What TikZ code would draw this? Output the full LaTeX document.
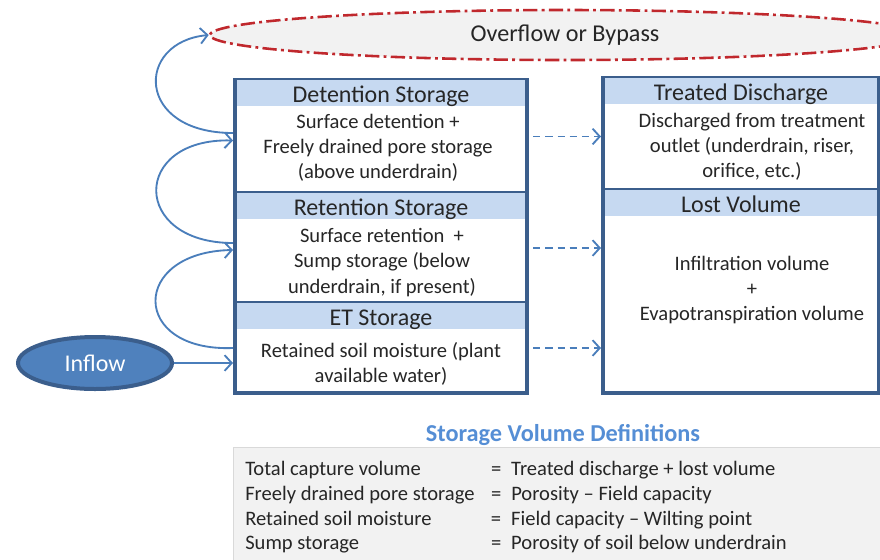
\documentclass[tikz,border=0pt]{standalone}
\usepackage{fontspec}
\setmainfont{Carlito}
\usepackage{xcolor}
\usetikzlibrary{calc}
\usetikzlibrary{positioning}
\usetikzlibrary{shapes.geometric}
\usetikzlibrary{arrows.meta}

\definecolor{boxblue}{HTML}{3B5E8C}
\definecolor{headblue}{HTML}{C6D9F1}
\definecolor{flowblue}{HTML}{4A7EBB}
\definecolor{inblue}{HTML}{4F81BD}
\definecolor{overred}{HTML}{C0282D}
\definecolor{panelgray}{HTML}{F2F2F2}
\definecolor{titleblue}{HTML}{558ED5}
\definecolor{textgray}{HTML}{262626}

\begin{document}
\begin{tikzpicture}[x=0.7pt, y=-0.7pt]

        \def\px{0.7pt}

        % Styles of the storage boxes, their bands and the flows
        \tikzset{
          storebox/.style={draw=boxblue, line width=2.8pt, fill=white,
            inner sep=0pt},
          headband/.style={fill=headblue, minimum height=26*\px,
            inner sep=0pt, text=textgray, text height=12.5pt,
            text depth=0pt, font=\fontsize{16.8}{19}\selectfont},
          bodytext/.style={align=center, text=textgray,
            font=\fontsize{14.4}{17.6}\selectfont},
          flow/.style={draw=flowblue, line width=1.3pt,
            -{Straight Barb[length=5pt, width=11pt]}},
          dashflow/.style={flow, dash pattern=on 5pt off 3.5pt}
        }

        \useasboundingbox (0,0) rectangle (880,559);
        \clip (0,0) rectangle (880,559);

        % Overflow on top and inflow on the left
        \node[ellipse, draw=overred, fill=panelgray, line width=1.8pt,
          dash pattern=on 10pt off 3pt on 2pt off 3pt,
          minimum width=710*\px, minimum height=50*\px, text=textgray,
          font=\fontsize{16.9}{19}\selectfont] (O1) at (565,35)
        {\raisebox{-1.4pt}{Overflow or Bypass}};
        \node[ellipse, draw=boxblue, fill=inblue, line width=2.8pt,
          minimum width=154*\px, minimum height=52*\px, text=white,
          font=\fontsize{16.8}{19}\selectfont] (I1) at (95,363) {Inflow};

        % Scope with the three storages and the two outlets
        \begin{scope}
            \node[storebox, minimum width=292*\px, minimum height=113*\px]
            (S1) at (381,136.5) {};
            \node[storebox, minimum width=292*\px, minimum height=110*\px]
            (S2) at (381,248) {};
            \node[storebox, minimum width=292*\px, minimum height=90*\px]
            (S3) at (381,348) {};
            \node[storebox, minimum width=276*\px, minimum height=112*\px]
            (T1) at (741,134) {};
            \node[storebox, minimum width=276*\px, minimum height=203*\px]
            (L1) at (741,291.5) {};

            \node[headband, anchor=north, minimum width=288*\px]
            (H1) at ($(S1.north)+(0,2)$) {Detention Storage};
            \node[headband, anchor=north, minimum width=288*\px]
            (H2) at ($(S2.north)+(0,2)$) {Retention Storage};
            \node[headband, anchor=north, minimum width=288*\px]
            (H3) at ($(S3.north)+(0,2)$) {ET Storage};
            \node[headband, anchor=north, minimum width=272*\px]
            (H4) at ($(T1.north)+(0,2)$) {Treated Discharge};
            \node[headband, anchor=north, minimum width=272*\px]
            (H5) at ($(L1.north)+(0,2)$) {Lost Volume};

            \node[bodytext] (B1) at (378,147.5)
            {Surface detention +\\Freely drained pore storage\\(above underdrain)};
            \node[bodytext] (B2) at (382,262.5)
            {Surface retention~~+\\Sump storage (below\\underdrain, if present)};
            \node[bodytext] (B3) at (381,364)
            {Retained soil moisture (plant\\available water)};
            \node[bodytext] (B4) at (752,146.5)
            {Discharged from treatment\\outlet (underdrain, riser,\\orifice, etc.)};
            \node[bodytext] (B5) at (752,290)
            {Infiltration volume\\+\\Evapotranspiration volume};
        \end{scope}

        % Definitions panel
        \node[font=\bfseries\fontsize{17}{19}\selectfont, text=titleblue]
        (V1) at (563,435) {Storage Volume Definitions};
        \node[draw=black!15, fill=panelgray, anchor=north west,
          inner sep=0pt, minimum width=680*\px, minimum height=130*\px]
        (P1) at (233,447) {};
        \node[anchor=north west, inner sep=0pt, text=textgray,
          font=\fontsize{14.4}{17.3}\selectfont] (D1) at (245,458)
        {\begin{tabular}{@{}p{172pt}@{}l@{\hspace{7pt}}l@{}}
          Total capture volume & = & Treated discharge + lost volume\\
          Freely drained pore storage & = & Porosity – Field capacity\\
          Retained soil moisture & = & Field capacity – Wilting point\\
          Sump storage & = & Porosity of soil below underdrain
        \end{tabular}};

        % Flows between the storages
        \begin{scope}
            \draw[flow] (I1.east) -- (S3.west |- I1.east);
            \draw[flow] (S3.west) .. controls (130,352) and (130,252)
            .. ($(S2.west)+(0,2)$);
            \draw[flow] ($(S2.west)+(0,-5)$) .. controls (131,243)
            and (131,138) .. ($(S1.west)+(0,4)$);
            \draw[flow] ($(S1.west)+(0,-3.5)$) .. controls (135,133)
            and (135,42) .. (O1.west);

            \foreach\x in {1,..., 3}
            \draw[dashflow, shorten <=3pt] (S\x.east) -- (T1.west |- S\x.east);
        \end{scope}

\end{tikzpicture}
\end{document}
